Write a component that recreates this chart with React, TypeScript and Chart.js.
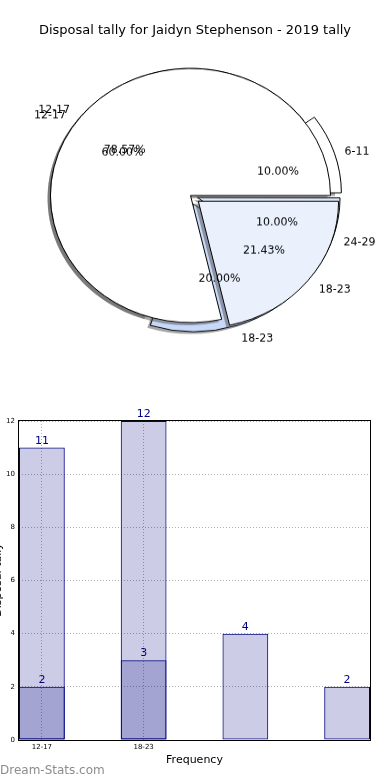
import React, { useEffect, useRef } from "react";
import { Chart, registerables } from "chart.js";
Chart.register(...registerables);

const TITLE = "Disposal tally for Jaidyn Stephenson - 2019 tally";

// Pie A (drawn on top) — matplotlib order, counter-clockwise from east
const pieALabels = ["12-17", "18-23"];
const pieAValues = [78.57, 21.43];
const pieAColors = ["#ffffff", "#eaf0fc"];
const pieAExplode = [0, 40];

// Pie B (drawn beneath)
const pieBLabels = ["6-11", "12-17", "18-23", "24-29"];
const pieBValues = [10, 60, 20, 10];
const pieBColors = ["#ffffff", "#ffffff", "#c8d8f8", "#dfe8fb"];
const pieBExplode = [32, 0, 40, 28];

// Bar chart
const barTickLabels = ["12-17", "18-23"];
const barPositions = [0, 1, 2, 3];
const barLight = [11, 12, 4, 2];
const barDark = [2, 3];
const X_TITLE = "Frequency";
const Y_TITLE = "Disposal tally";
const WATERMARK = "Dream-Stats.com";

const FONT = "'DejaVu Sans', 'Noto Sans', sans-serif";
const SY = 127.5 / 140.5;

const rev = <T,>(a: T[]) => a.slice().reverse();

function drawPieLabels(ctx: CanvasRenderingContext2D, chart: Chart) {
  const meta = chart.getDatasetMeta(0);
  const labels = chart.data.labels as string[];
  const vals = chart.data.datasets[0].data as number[];
  const total = vals.reduce((s, v) => s + v, 0);
  meta.data.forEach((arc: any, i: number) => {
    const p = arc.getProps(["x", "y", "startAngle", "endAngle", "outerRadius"], true);
    const mid = (p.startAngle + p.endAngle) / 2;
    const c = Math.cos(mid);
    const s = Math.sin(mid);
    const off = (arc.options.offset || 0) / 4;
    const cx = p.x + c * off;
    const cy = p.y + s * off;
    const r = p.outerRadius;
    const put = (t: string, x: number, y: number, align: CanvasTextAlign) => {
      ctx.save();
      ctx.translate(x, y);
      ctx.scale(1, 1 / SY);
      ctx.textAlign = align;
      ctx.textBaseline = "middle";
      ctx.fillStyle = "#000";
      ctx.font = `11px ${FONT}`;
      ctx.fillText(t, 0, 0);
      ctx.restore();
    };
    put(labels[i], cx + c * 1.1 * r, cy + s * 1.1 * r + 2, c >= 0 ? "left" : "right");
    put(((vals[i] / total) * 100).toFixed(2) + "%", cx + c * 0.6 * r, cy + s * 0.6 * r + 2, "center");
  });
}

const shadowPlugin = {
  id: "pieShadow",
  beforeDatasetsDraw(chart: any) {
    const ctx = chart.ctx;
    const meta = chart.getDatasetMeta(0);
    ctx.save();
    ctx.fillStyle = "rgba(77,77,77,0.5)";
    meta.data.forEach((arc: any) => {
      const p = arc.getProps(["x", "y", "startAngle", "endAngle", "outerRadius"], true);
      const mid = (p.startAngle + p.endAngle) / 2;
      const off = (arc.options.offset || 0) / 4;
      const cx = p.x + Math.cos(mid) * off - 3;
      const cy = p.y + Math.sin(mid) * off + 3;
      ctx.beginPath();
      ctx.moveTo(cx, cy);
      ctx.arc(cx, cy, p.outerRadius, p.startAngle, p.endAngle);
      ctx.closePath();
      ctx.fill();
    });
    ctx.restore();
  },
};

function pieConfig(labels: string[], values: number[], colors: string[], explode: number[], extraPlugins: any[]) {
  return {
    type: "pie" as const,
    data: {
      labels: rev(labels),
      datasets: [
        {
          data: rev(values),
          backgroundColor: rev(colors),
          borderColor: "#000",
          borderWidth: 1,
          offset: rev(explode),
          radius: 140,
          rotation: 90,
        },
      ],
    },
    options: {
      animation: false as const,
      responsive: false,
      rotation: 90,
      radius: 140,
      events: [],
      layout: { padding: { right: 9 } },
      plugins: { legend: { display: false }, tooltip: { enabled: false } },
    },
    plugins: [shadowPlugin, ...extraPlugins],
  };
}

export default function App() {
  const pieARef = useRef<HTMLCanvasElement>(null);
  const pieBRef = useRef<HTMLCanvasElement>(null);
  const barRef = useRef<HTMLCanvasElement>(null);

  useEffect(() => {
    Chart.defaults.font.family = FONT;
    const pieB = new Chart(pieBRef.current!, pieConfig(pieBLabels, pieBValues, pieBColors, pieBExplode, []) as any);
    const labelPlugin = {
      id: "pieLabels",
      afterDraw(chart: any) {
        drawPieLabels(chart.ctx, pieB);
        drawPieLabels(chart.ctx, chart);
      },
    };
    const pieA = new Chart(pieARef.current!, pieConfig(pieALabels, pieAValues, pieAColors, pieAExplode, [labelPlugin]) as any);

    const gridColor = "rgba(140,140,140,0.7)";
    const barPlugin = {
      id: "barExtras",
      afterDatasetsDraw(chart: any) {
        const ctx = chart.ctx;
        ctx.save();
        ctx.fillStyle = "#000080";
        ctx.font = `11px ${FONT}`;
        ctx.textAlign = "center";
        ctx.textBaseline = "alphabetic";
        chart.data.datasets.forEach((ds: any, di: number) => {
          const meta = chart.getDatasetMeta(di);
          meta.data.forEach((el: any, i: number) => {
            const pr = el.getProps(["x", "y"], true);
            ctx.fillText(String(ds.data[i].y), pr.x, pr.y - 4);
          });
        });
        ctx.restore();
      },
      afterDraw(chart: any) {
        const ctx = chart.ctx;
        const a = chart.chartArea;
        ctx.save();
        ctx.strokeStyle = "#000";
        ctx.lineWidth = 1;
        ctx.strokeRect(Math.round(a.left) - 0.5, Math.round(a.top) - 0.5, Math.round(a.right - a.left) + 1, Math.round(a.bottom - a.top) + 1);
        ctx.translate(0.5, 180);
        ctx.rotate(-Math.PI / 2);
        ctx.textAlign = "center";
        ctx.textBaseline = "alphabetic";
        ctx.fillStyle = "#000";
        ctx.font = `11px ${FONT}`;
        ctx.fillText(Y_TITLE, 0, 0);
        ctx.restore();
      },
    };

    const mk = (vals: number[], color: string) => ({
      data: vals.map((v, i) => ({ x: barPositions[i], y: v })),
      backgroundColor: color,
      borderColor: "#000080",
      borderWidth: 1,
      borderSkipped: false,
      grouped: false,
      barPercentage: 0.45,
      categoryPercentage: 1,
    });

    const bar = new Chart(barRef.current!, {
      type: "bar",
      data: {
        datasets: [mk(barDark, "rgba(0,0,128,0.2)"), mk(barLight, "rgba(0,0,128,0.2)")] as any,
      },
      options: {
        animation: false,
        responsive: false,
        events: [],
        layout: { padding: { top: 21, right: 20, left: 0, bottom: 0 } },
        plugins: { legend: { display: false }, tooltip: { enabled: false } },
        scales: {
          x: {
            type: "linear",
            min: -0.225,
            max: 3.225,
            offset: false,
            grid: { offset: false, color: gridColor, drawTicks: false, lineWidth: 1 },
            border: { display: false, dash: [1, 2] },
            afterBuildTicks: (s: any) => {
              s.ticks = [0, 1].map((v) => ({ value: v }));
            },
            afterFit: (s: any) => {
              s.height = 40;
            },
            ticks: {
              callback: (v: any) => barTickLabels[v] ?? "",
              font: { size: 7, family: FONT },
              color: "#000",
              padding: 3,
              autoSkip: false,
              maxRotation: 0,
            },
            title: {
              display: true,
              text: X_TITLE,
              color: "#000",
              font: { size: 11, family: FONT },
              padding: { top: 0, bottom: 13 },
            },
          },
          y: {
            min: 0,
            max: 12,
            grid: { color: gridColor, drawTicks: false, lineWidth: 1 },
            border: { display: false, dash: [1, 2] },
            afterFit: (s: any) => {
              s.width = 19;
            },
            ticks: { stepSize: 2, font: { size: 7, family: FONT }, color: "#000", padding: 4 },
          },
        },
      } as any,
      plugins: [barPlugin],
    });

    return () => {
      pieA.destroy();
      pieB.destroy();
      bar.destroy();
    };
  }, []);

  const pieWrap: React.CSSProperties = {
    position: "absolute",
    left: 0,
    top: 14,
    width: 390,
    height: 400,
    transform: `scaleY(${SY})`,
    transformOrigin: "0 0",
  };

  return (
    <div style={{ position: "absolute", left: 0, top: 0, width: 390, height: 780, background: "#fff", overflow: "hidden", fontFamily: FONT }}>
      <div style={pieWrap}>
        <canvas ref={pieBRef} width={390} height={400} style={{ position: "absolute", left: 0, top: 0 }} />
      </div>
      <div style={pieWrap}>
        <canvas ref={pieARef} width={390} height={400} style={{ position: "absolute", left: 0, top: 0 }} />
      </div>
      <div style={{ position: "absolute", left: 0, top: 21, width: 390, lineHeight: "18px", fontSize: 13, textAlign: "center", color: "#000" }}>
        {TITLE}
      </div>
      <canvas ref={barRef} width={390} height={380} style={{ position: "absolute", left: 0, top: 400 }} />
      <div style={{ position: "absolute", left: 0, top: 763, fontSize: 12, lineHeight: "14px", color: "#8c8c8c" }}>{WATERMARK}</div>
    </div>
  );
}
